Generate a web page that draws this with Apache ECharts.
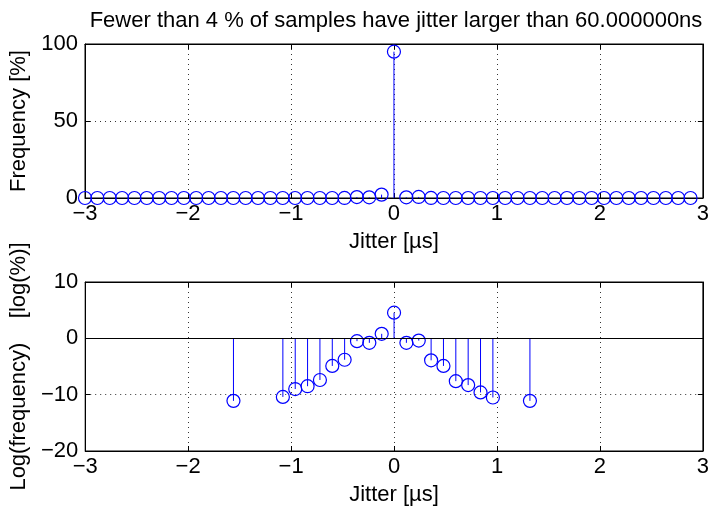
<!DOCTYPE html>
<html>
<head>
<meta charset="utf-8">
<script src="https://cdn.jsdelivr.net/npm/echarts@6/dist/echarts.min.js"></script>
<style>
html, body { margin: 0; padding: 0; background: #fff; }
#chart { width: 712px; height: 509px; }
</style>
</head>
<body>
<div id="chart"></div>
<script>
// bin centres (us) for the histogram
var binX = [-3.00, -2.88, -2.76, -2.64, -2.52, -2.40, -2.28, -2.16, -2.04, -1.92,
	-1.80, -1.68, -1.56, -1.44, -1.32, -1.20, -1.08, -0.96, -0.84, -0.72,
	-0.60, -0.48, -0.36, -0.24, -0.12, 0.00, 0.12, 0.24, 0.36, 0.48,
	0.60, 0.72, 0.84, 0.96, 1.08, 1.20, 1.32, 1.44, 1.56, 1.68,
	1.80, 1.92, 2.04, 2.16, 2.28, 2.40, 2.52, 2.64, 2.76, 2.88];
var freqPct = [0, 0, 0, 0, 0, 0, 0, 0, 0, 0,
	0, 0, 0, 0, 0, 0, 0, 0, 0, 0,
	0.01, 0.02, 0.6, 0.45, 2.2, 95.0, 0.45, 0.67, 0.02, 0.01,
	0, 0, 0, 0, 0, 0, 0, 0, 0, 0,
	0, 0, 0, 0, 0, 0, 0, 0, 0, 0];

// bins with non-zero counts, natural log of percent
var logX = [-1.56, -1.08, -0.96, -0.84, -0.72, -0.60, -0.48, -0.36, -0.24, -0.12,
	0.00, 0.12, 0.24, 0.36, 0.48, 0.60, 0.72, 0.84, 0.96, 1.32];
var logFreq = [-11.1, -10.4, -9.0, -8.5, -7.4, -4.9, -3.8, -0.5, -0.8, 0.8,
	4.55, -0.8, -0.4, -3.9, -4.9, -7.6, -8.3, -9.6, -10.5, -11.1];

var xTicks = [-3, -2, -1, 0, 1, 2, 3];
var topYTicks = [0, 50, 100];
var botYTicks = [-20, -10, 0, 10];

var titleText = 'Fewer than 4 % of samples have jitter larger than 60.000000ns';
var xName = 'Jitter [\u00b5s]';
var topYName = 'Frequency [%]';
var botYName = 'Log(frequency)    [log(%)]';

var font = '"Liberation Sans", Arial, sans-serif';
var blue = '#0000ff';
var fs = 22;

var myChart = echarts.init(document.getElementById('chart'));

function pairs(xs, ys) {
	var out = [];
	for (var i = 0; i < xs.length; i++) {
		out.push([xs[i], ys[i]]);
	}
	return out;
}

var stemRender = function (params, api) {
	var p0 = api.coord([api.value(0), 0]);
	var p1 = api.coord([api.value(0), api.value(1)]);
	return {
		type: 'line',
		shape: { x1: p0[0], y1: p0[1], x2: p1[0], y2: p1[1] },
		style: { stroke: blue, lineWidth: 1 }
	};
};

var minus = function (v) { return String(v).replace('-', '\u2212'); };
var labelStyle = { color: '#000', fontSize: fs, fontFamily: font };
var gridLine = { show: true, lineStyle: { color: '#333', type: [1, 4], width: 1 } };

function xAx(gridIndex, pos, labels) {
	return {
		type: 'value', gridIndex: gridIndex, position: pos,
		min: xTicks[0], max: xTicks[xTicks.length - 1], interval: 1,
		name: labels ? xName : '', nameLocation: 'middle', nameGap: 33,
		nameTextStyle: labelStyle,
		axisLine: { show: true, onZero: false, lineStyle: { color: '#000', width: 1 } },
		axisTick: { show: true, inside: true, length: 5, lineStyle: { color: '#000' } },
		axisLabel: { show: labels, color: '#000', fontSize: fs, fontFamily: font, margin: 5, formatter: minus },
		splitLine: labels ? gridLine : { show: false }
	};
}

function yAx(gridIndex, pos, labels, ticks, step, nm) {
	return {
		type: 'value', gridIndex: gridIndex, position: pos,
		min: ticks[0], max: ticks[ticks.length - 1], interval: step,
		name: labels ? nm : '', nameLocation: 'middle', nameGap: 54,
		nameTextStyle: labelStyle,
		axisLine: { show: true, onZero: false, lineStyle: { color: '#000', width: 1 } },
		axisTick: { show: true, inside: true, length: 5, lineStyle: { color: '#000' } },
		axisLabel: { show: labels, color: '#000', fontSize: fs, fontFamily: font, margin: 7, formatter: minus },
		splitLine: labels ? gridLine : { show: false }
	};
}

var circleStyle = { color: 'rgba(0,0,0,0)', borderColor: blue, borderWidth: 1.2, opacity: 1 };

var option = {
	animation: false,
	backgroundColor: '#fff',
	title: {
		text: titleText, left: 391, top: 5, textAlign: 'center',
		textStyle: { color: '#000', fontSize: fs, fontWeight: 'normal', fontFamily: font }
	},
	grid: [
		{ left: 85, right: 9, top: 44, height: 154, show: true, borderColor: '#000', borderWidth: 1 },
		{ left: 85, right: 9, top: 282, height: 169, show: true, borderColor: '#000', borderWidth: 1 }
	],
	xAxis: [
		xAx(0, 'bottom', true), xAx(0, 'top', false),
		xAx(1, 'bottom', true), xAx(1, 'top', false)
	],
	yAxis: [
		yAx(0, 'left', true, topYTicks, 50, topYName), yAx(0, 'right', false, topYTicks, 50, ''),
		yAx(1, 'left', true, botYTicks, 10, botYName), yAx(1, 'right', false, botYTicks, 10, '')
	],
	series: [
		{
			type: 'custom', xAxisIndex: 0, yAxisIndex: 0, clip: false,
			renderItem: stemRender, data: pairs(binX, freqPct), z: 3
		},
		{
			type: 'scatter', xAxisIndex: 0, yAxisIndex: 0, clip: false,
			symbol: 'circle', symbolSize: 13, itemStyle: circleStyle,
			data: pairs(binX, freqPct), z: 4
		},
		{
			type: 'custom', xAxisIndex: 2, yAxisIndex: 2, clip: false,
			renderItem: stemRender, data: pairs(logX, logFreq), z: 3,
			markLine: {
				silent: true, symbol: 'none', label: { show: false },
				lineStyle: { color: '#000', type: 'solid', width: 1 },
				data: [{ yAxis: 0 }]
			}
		},
		{
			type: 'scatter', xAxisIndex: 2, yAxisIndex: 2, clip: false,
			symbol: 'circle', symbolSize: 13, itemStyle: circleStyle,
			data: pairs(logX, logFreq), z: 4
		},
		// empty series so the top / right frame axes get drawn with their ticks
		{ type: 'line', xAxisIndex: 1, yAxisIndex: 1, data: [] },
		{ type: 'line', xAxisIndex: 3, yAxisIndex: 3, data: [] }
	]
};
myChart.setOption(option);
</script>
</body>
</html>
